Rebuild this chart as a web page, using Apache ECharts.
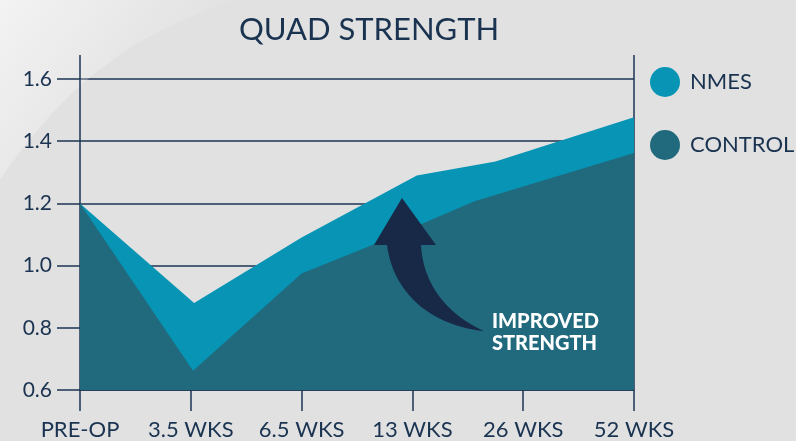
<!DOCTYPE html>
<html>
<head>
<meta charset="utf-8">
<script src="https://cdn.jsdelivr.net/npm/echarts@6/dist/echarts.min.js"></script>
<style>
  html, body { margin: 0; padding: 0; background: #e1e1e1; }
  #main { width: 796px; height: 441px; }
</style>
</head>
<body>
<div id="main"></div>
<script>
// category labels along the bottom (positions 0..5)
var tickLabels = ['PRE-OP', '3.5 WKS', '6.5 WKS', '13 WKS', '26 WKS', '52 WKS'];

// NMES outline (x = position on the category scale)
var nmesX = [0, 1.03, 2.0, 3.04, 3.75, 5];
var nmesY = [1.2, 0.88, 1.09, 1.29, 1.335, 1.477];

// control outline
var controlX = [0, 1.02, 2.0, 2.65, 3.56, 5];
var controlY = [1.2, 0.662, 0.975, 1.068, 1.207, 1.362];

var yMin = 0.6, yMax = 1.6, yStep = 0.2;

var navy = '#1c3553';
var textColor = '#1a3350';
var font = 'Lato';

function pairs(xs, ys) {
  var out = [];
  for (var i = 0; i < xs.length; i++) out.push([xs[i], ys[i]]);
  return out;
}

// sample a cubic bezier into points (for the decorative shapes)
function bez(p0, p1, p2, p3, n) {
  var pts = [];
  for (var i = 0; i <= n; i++) {
    var t = i / n, u = 1 - t;
    pts.push([
      u*u*u*p0[0] + 3*u*u*t*p1[0] + 3*u*t*t*p2[0] + t*t*t*p3[0],
      u*u*u*p0[1] + 3*u*u*t*p1[1] + 3*u*t*t*p2[1] + t*t*t*p3[1]
    ]);
  }
  return pts;
}

var chart = echarts.init(document.getElementById('main'));

var option = {
  backgroundColor: '#e1e1e1',
  animation: false,
  title: {
    text: 'QUAD STRENGTH',
    left: 364,
    textAlign: 'center',
    top: 9,
    textStyle: { fontFamily: font, fontSize: 31, fontWeight: 'normal', color: textColor }
  },
  legend: {
    orient: 'vertical',
    left: 650,
    top: 67,
    padding: 0,
    itemWidth: 40,
    itemHeight: 30,
    itemGap: 33,
    icon: 'circle',
    data: ['NMES', 'CONTROL'],
    textStyle: { fontFamily: font, fontSize: 22, color: textColor }
  },
  grid: { left: 80, right: 162, top: 79, bottom: 50 },
  xAxis: {
    type: 'value',
    min: 0,
    max: 5,
    interval: 1,
    axisLine: { show: true, lineStyle: { color: navy, width: 1.5 } },
    axisTick: { show: true, length: 21, lineStyle: { color: navy, width: 1.5 } },
    splitLine: { show: false },
    axisLabel: {
      margin: 29,
      fontFamily: font,
      fontSize: 22,
      color: textColor,
      formatter: function (v) { return tickLabels[Math.round(v)]; }
    }
  },
  yAxis: {
    type: 'value',
    min: yMin,
    max: yMax,
    interval: yStep,
    axisLine: { show: true, lineStyle: { color: navy, width: 1.5 } },
    axisTick: { show: true, length: 23, lineStyle: { color: navy, width: 1.5 } },
    splitLine: { show: true, lineStyle: { color: navy, width: 1.5 } },
    axisLabel: {
      margin: 28,
      fontFamily: font,
      fontSize: 21,
      color: textColor,
      formatter: function (v) { return v.toFixed(1); }
    }
  },
  series: [
    {
      name: 'NMES',
      type: 'line',
      data: pairs(nmesX, nmesY),
      showSymbol: false,
      z: 2,
      itemStyle: { color: '#0794b5' },
      lineStyle: { width: 0 },
      areaStyle: { color: '#0794b5', opacity: 1, origin: 'start' }
    },
    {
      name: 'CONTROL',
      type: 'line',
      data: pairs(controlX, controlY),
      showSymbol: false,
      z: 3,
      itemStyle: { color: '#216a7d' },
      lineStyle: { width: 0 },
      areaStyle: { color: '#216a7d', opacity: 1, origin: 'start' }
    }
  ]
};

chart.setOption(option);

// extra frame lines + arrow annotation
var pLeftTop = chart.convertToPixel({ gridIndex: 0 }, [0, yMax]);
var pRightTop = chart.convertToPixel({ gridIndex: 0 }, [5, yMax]);
var pRightBot = chart.convertToPixel({ gridIndex: 0 }, [5, yMin]);

// arrow outline: head, then right edge of shaft down to the tail, then left edge back up
var arrowPts = [[402, 198], [436, 245], [421, 245]]
  .concat(bez([421, 245], [423, 285], [448, 315], [484, 331], 24).slice(1))
  .concat(bez([484, 331], [440, 327], [394, 300], [387, 245], 24).slice(1))
  .concat([[374, 245]]);

var swooshPts = [[0, 0], [240, 0]].concat(bez([240, 0], [150, 25], [70, 75], [0, 180], 24).slice(1));

chart.setOption({
  graphic: [
    {
      type: 'polygon',
      z: 0,
      silent: true,
      shape: { points: swooshPts },
      style: {
        fill: {
          type: 'linear', x: 0, y: 0, x2: 1, y2: 1,
          colorStops: [
            { offset: 0, color: 'rgba(255,255,255,0.6)' },
            { offset: 0.65, color: 'rgba(255,255,255,0)' }
          ]
        }
      }
    },
    {
      type: 'line',
      z: 1,
      shape: { x1: pLeftTop[0], y1: pLeftTop[1] - 24, x2: pLeftTop[0], y2: pLeftTop[1] },
      style: { stroke: navy, lineWidth: 1.5 }
    },
    {
      type: 'line',
      z: 1,
      shape: { x1: pRightTop[0], y1: pRightTop[1] - 24, x2: pRightBot[0], y2: pRightBot[1] },
      style: { stroke: navy, lineWidth: 1.5 }
    },
    {
      type: 'polygon',
      z: 10,
      shape: { points: arrowPts },
      style: { fill: '#172947' }
    },
    {
      type: 'text',
      z: 10,
      left: 492,
      top: 311,
      style: {
        text: 'IMPROVED\nSTRENGTH',
        fill: '#ffffff',
        fontFamily: font,
        fontWeight: 900,
        fontSize: 20,
        lineHeight: 22
      }
    }
  ]
});
</script>
</body>
</html>
